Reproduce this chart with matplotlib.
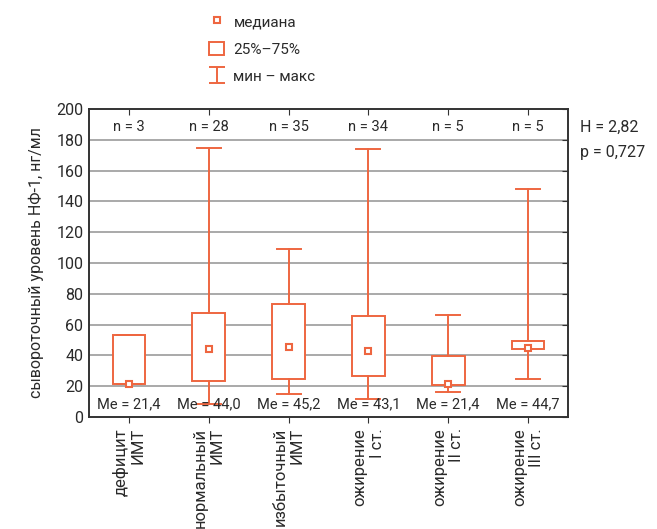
import matplotlib
matplotlib.use('Agg')
import matplotlib.pyplot as plt
from matplotlib.lines import Line2D
from matplotlib.patches import Patch
from matplotlib.path import Path

plt.rcParams['font.family'] = ['Roboto', 'DejaVu Sans']

# data
groups = ['дефицит\nИМТ', 'нормальный\nИМТ', 'избыточный\nИМТ',
          'ожирение\nI ст.', 'ожирение\nII ст.', 'ожирение\nIII ст.']
n_vals = [3, 28, 35, 34, 5, 5]
medians = [21.4, 44.0, 45.2, 43.1, 21.4, 44.7]
q1 = [21.2, 23.6, 24.7, 26.8, 20.6, 44.1]
q3 = [53.0, 67.5, 73.6, 65.8, 39.8, 49.5]
mins = [21.2, 8.6, 14.7, 11.5, 16.4, 24.9]
maxs = [53.0, 174.5, 109.3, 174.2, 66.4, 148.0]
H_text = 'H = 2,82'
p_text = 'p = 0,727'

col = '#ee6640'
dark = '#333333'
txt = '#2a2a2a'
W, Hpx = 657, 529

fig = plt.figure(figsize=(W / 100, Hpx / 100), dpi=100)
ax = fig.add_axes([89 / W, (Hpx - 417) / Hpx, (568 - 89) / W, (417 - 109) / Hpx])

stats = []
for i in range(len(groups)):
    stats.append(dict(med=medians[i], q1=q1[i], q3=q3[i],
                      whislo=mins[i], whishi=maxs[i], label=groups[i]))
pos = list(range(len(groups)))
ax.bxp(stats, positions=pos, widths=0.41, capwidths=0.3, patch_artist=True,
       showfliers=False,
       boxprops=dict(facecolor='white', edgecolor=col, linewidth=1.4),
       whiskerprops=dict(color=col, linewidth=1.4),
       capprops=dict(color=col, linewidth=1.4),
       medianprops=dict(linewidth=0),
       zorder=3)
ax.plot(pos, medians, ls='none', marker='s', ms=5, mfc='white', mec=col,
        mew=1.5, zorder=4)

for i in pos:
    ax.text(i, 188, 'n = %d' % n_vals[i], ha='center', va='center',
            fontsize=10.5, color=txt)
    ax.text(i, 8.2, ('Me = %.1f' % medians[i]).replace('.', ','),
            ha='center', va='center', fontsize=10.5, color=txt)

ax.set_xlim(-0.5, 5.5)
ax.set_ylim(0, 200)
ax.set_yticks(range(0, 201, 20))
ax.set_xticks(pos)
ax.set_xticklabels(groups, rotation=90, va='top', ha='center',
                   multialignment='right', fontsize=12, color=txt)
for y in range(20, 200, 20):
    ax.axhline(y, color='#a3a3a3', lw=1.3, zorder=1)

for s in ax.spines.values():
    s.set_color(dark)
    s.set_linewidth(1.4)
ax.tick_params(axis='y', which='both', left=False, right=True, direction='in',
               length=4, color=dark, labelsize=11.5, labelcolor=txt, pad=4)
ax.tick_params(axis='x', which='both', bottom=True, top=True, direction='out',
               length=4, color=dark, pad=4)
for t in ax.xaxis.get_major_ticks():
    t.tick2line.set_marker(3)
ax.set_ylabel('сывороточный уровень НФ-1, нг/мл', fontsize=11.5, labelpad=9,
              color=txt)

fig.text(580 / W, 1 - 127 / Hpx, H_text, fontsize=11.5, va='center', color=txt)
fig.text(580 / W, 1 - 153 / Hpx, p_text, fontsize=11.5, va='center', color=txt)

ibeam = Path([(-1, 1), (1, 1), (0, 1), (0, -1), (-1, -1), (1, -1)],
             [Path.MOVETO, Path.LINETO, Path.MOVETO, Path.LINETO,
              Path.MOVETO, Path.LINETO])
handles = [
    Line2D([], [], ls='none', marker='s', ms=5, mfc='white', mec=col, mew=1.5),
    Patch(facecolor='white', edgecolor=col, linewidth=1.4),
    Line2D([], [], ls='none', marker=ibeam, ms=11, mfc='none', mec=col, mew=1.4),
]
labels = ['медиана', '25%–75%', 'мин – макс']
leg = fig.legend(handles, labels, loc='upper left',
                 bbox_to_anchor=(209 / W, 1 - 14 / Hpx),
                 frameon=False, fontsize=11, handlelength=1.0, handleheight=1.0,
                 handletextpad=0.6, labelspacing=0.82, borderpad=0,
                 borderaxespad=0)
for t in leg.get_texts():
    t.set_color(txt)

fig.savefig('out.png', dpi=100)
